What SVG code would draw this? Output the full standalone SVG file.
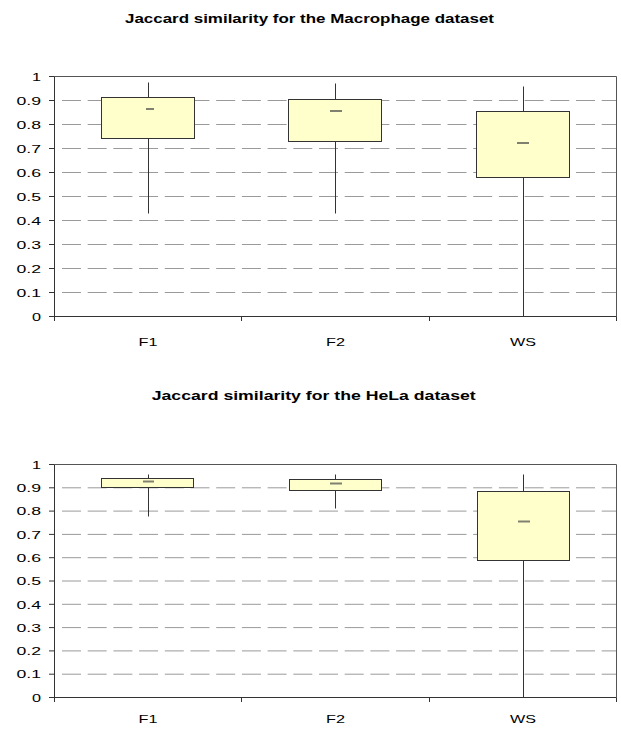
<svg xmlns="http://www.w3.org/2000/svg" width="621" height="732" viewBox="0 0 621 732">
<style>
.title{font-family:"Liberation Sans",Arial,sans-serif;font-weight:bold;font-size:12.5px;fill:#000}
.lab{font-family:"Liberation Sans",Arial,sans-serif;font-size:11.6px;fill:#000}
.grid{stroke:#9a9a9a;stroke-width:1;stroke-dasharray:19 6.7;fill:none}
.axis{stroke:#333;stroke-width:1;fill:none}
.frame{stroke:#555;stroke-width:1;fill:none}
.box{fill:#ffffcc;stroke:#333;stroke-width:1}
.whisk{stroke:#333;stroke-width:1}
.med{stroke:#808070;stroke-width:2}
</style>
<rect width="621" height="732" fill="#fff"/>

<!-- ===== Chart 1 ===== -->
<g id="chart1">
<text class="title" x="309.5" y="22.7" text-anchor="middle" textLength="369" lengthAdjust="spacingAndGlyphs">Jaccard similarity for the Macrophage dataset</text>
<g id="chart1-grid">
<line class="grid" x1="62" x2="616" y1="100.5" y2="100.5"/>
<line class="grid" x1="62" x2="616" y1="124.5" y2="124.5"/>
<line class="grid" x1="62" x2="616" y1="148.5" y2="148.5"/>
<line class="grid" x1="62" x2="616" y1="172.5" y2="172.5"/>
<line class="grid" x1="62" x2="616" y1="196.5" y2="196.5"/>
<line class="grid" x1="62" x2="616" y1="220.5" y2="220.5"/>
<line class="grid" x1="62" x2="616" y1="244.5" y2="244.5"/>
<line class="grid" x1="62" x2="616" y1="268.5" y2="268.5"/>
<line class="grid" x1="62" x2="616" y1="292.5" y2="292.5"/>
</g>
<path class="frame" d="M54.5 76.5 H616.5 V316.5"/>
<g id="chart1-axes">
<path class="axis" d="M54.5 76.5 V321 M54.5 316.5 H616.5 M241.5 316.5 V321 M429.5 316.5 V321 M616.5 316.5 V321"/>
<path class="axis" d="M49 76.5 H54.5 M49 100.5 H54.5 M49 124.5 H54.5 M49 148.5 H54.5 M49 172.5 H54.5 M49 196.5 H54.5 M49 220.5 H54.5 M49 244.5 H54.5 M49 268.5 H54.5 M49 292.5 H54.5 M49 316.5 H54.5"/>
</g>
<g id="chart1-ylabels">
<text class="lab" x="41" y="80.7" text-anchor="end" textLength="9" lengthAdjust="spacingAndGlyphs">1</text>
<text class="lab" x="41" y="104.7" text-anchor="end" textLength="24.5" lengthAdjust="spacingAndGlyphs">0.9</text>
<text class="lab" x="41" y="128.7" text-anchor="end" textLength="24.5" lengthAdjust="spacingAndGlyphs">0.8</text>
<text class="lab" x="41" y="152.7" text-anchor="end" textLength="24.5" lengthAdjust="spacingAndGlyphs">0.7</text>
<text class="lab" x="41" y="176.7" text-anchor="end" textLength="24.5" lengthAdjust="spacingAndGlyphs">0.6</text>
<text class="lab" x="41" y="200.7" text-anchor="end" textLength="24.5" lengthAdjust="spacingAndGlyphs">0.5</text>
<text class="lab" x="41" y="224.7" text-anchor="end" textLength="24.5" lengthAdjust="spacingAndGlyphs">0.4</text>
<text class="lab" x="41" y="248.7" text-anchor="end" textLength="24.5" lengthAdjust="spacingAndGlyphs">0.3</text>
<text class="lab" x="41" y="272.7" text-anchor="end" textLength="24.5" lengthAdjust="spacingAndGlyphs">0.2</text>
<text class="lab" x="41" y="296.7" text-anchor="end" textLength="24.5" lengthAdjust="spacingAndGlyphs">0.1</text>
<text class="lab" x="41" y="320.7" text-anchor="end" textLength="9" lengthAdjust="spacingAndGlyphs">0</text>
</g>
<g id="chart1-xlabels">
<text class="lab" x="148" y="345.5" text-anchor="middle" textLength="19" lengthAdjust="spacingAndGlyphs">F1</text>
<text class="lab" x="335.5" y="345.5" text-anchor="middle" textLength="19" lengthAdjust="spacingAndGlyphs">F2</text>
<text class="lab" x="523" y="345.5" text-anchor="middle" textLength="26" lengthAdjust="spacingAndGlyphs">WS</text>
</g>
<g id="c1-F1">
<line class="whisk" x1="148.5" x2="148.5" y1="82.5" y2="213.5"/>
<rect class="box" x="101.5" y="97.5" width="93" height="41"/>
<line class="med" x1="146" x2="154" y1="109" y2="109"/>
</g>
<g id="c1-F2">
<line class="whisk" x1="335.5" x2="335.5" y1="83.5" y2="213.5"/>
<rect class="box" x="288.5" y="99.5" width="93" height="42"/>
<line class="med" x1="330" x2="342" y1="111" y2="111"/>
</g>
<g id="c1-WS">
<line class="whisk" x1="523.5" x2="523.5" y1="86.5" y2="316.5"/>
<rect class="box" x="476.5" y="111.5" width="93" height="66"/>
<line class="med" x1="517" x2="529" y1="143" y2="143"/>
</g>
</g>

<!-- ===== Chart 2 ===== -->
<g id="chart2">
<text class="title" x="313.7" y="399.5" text-anchor="middle" textLength="324" lengthAdjust="spacingAndGlyphs">Jaccard similarity for the HeLa dataset</text>
<g id="chart2-grid">
<line class="grid" x1="62" x2="616" y1="487.8" y2="487.8"/>
<line class="grid" x1="62" x2="616" y1="511.1" y2="511.1"/>
<line class="grid" x1="62" x2="616" y1="534.4" y2="534.4"/>
<line class="grid" x1="62" x2="616" y1="557.7" y2="557.7"/>
<line class="grid" x1="62" x2="616" y1="581" y2="581"/>
<line class="grid" x1="62" x2="616" y1="604.3" y2="604.3"/>
<line class="grid" x1="62" x2="616" y1="627.6" y2="627.6"/>
<line class="grid" x1="62" x2="616" y1="650.9" y2="650.9"/>
<line class="grid" x1="62" x2="616" y1="674.2" y2="674.2"/>
</g>
<path class="frame" d="M54.5 464.5 H616.5 V697.5"/>
<g id="chart2-axes">
<path class="axis" d="M54.5 464.5 V702 M54.5 697.5 H616.5 M241.5 697.5 V702 M429.5 697.5 V702 M616.5 697.5 V702"/>
<path class="axis" d="M49 464.5 H54.5 M49 487.8 H54.5 M49 511.1 H54.5 M49 534.4 H54.5 M49 557.7 H54.5 M49 581 H54.5 M49 604.3 H54.5 M49 627.6 H54.5 M49 650.9 H54.5 M49 674.2 H54.5 M49 697.5 H54.5"/>
</g>
<g id="chart2-ylabels">
<text class="lab" x="41" y="468.7" text-anchor="end" textLength="9" lengthAdjust="spacingAndGlyphs">1</text>
<text class="lab" x="41" y="492" text-anchor="end" textLength="24.5" lengthAdjust="spacingAndGlyphs">0.9</text>
<text class="lab" x="41" y="515.3" text-anchor="end" textLength="24.5" lengthAdjust="spacingAndGlyphs">0.8</text>
<text class="lab" x="41" y="538.6" text-anchor="end" textLength="24.5" lengthAdjust="spacingAndGlyphs">0.7</text>
<text class="lab" x="41" y="561.9" text-anchor="end" textLength="24.5" lengthAdjust="spacingAndGlyphs">0.6</text>
<text class="lab" x="41" y="585.2" text-anchor="end" textLength="24.5" lengthAdjust="spacingAndGlyphs">0.5</text>
<text class="lab" x="41" y="608.5" text-anchor="end" textLength="24.5" lengthAdjust="spacingAndGlyphs">0.4</text>
<text class="lab" x="41" y="631.8" text-anchor="end" textLength="24.5" lengthAdjust="spacingAndGlyphs">0.3</text>
<text class="lab" x="41" y="655.1" text-anchor="end" textLength="24.5" lengthAdjust="spacingAndGlyphs">0.2</text>
<text class="lab" x="41" y="678.4" text-anchor="end" textLength="24.5" lengthAdjust="spacingAndGlyphs">0.1</text>
<text class="lab" x="41" y="701.7" text-anchor="end" textLength="9" lengthAdjust="spacingAndGlyphs">0</text>
</g>
<g id="chart2-xlabels">
<text class="lab" x="148" y="723" text-anchor="middle" textLength="19" lengthAdjust="spacingAndGlyphs">F1</text>
<text class="lab" x="335.5" y="723" text-anchor="middle" textLength="19" lengthAdjust="spacingAndGlyphs">F2</text>
<text class="lab" x="523" y="723" text-anchor="middle" textLength="26" lengthAdjust="spacingAndGlyphs">WS</text>
</g>
<g id="c2-F1">
<line class="whisk" x1="148.5" x2="148.5" y1="474.5" y2="516.5"/>
<rect class="box" x="101.5" y="478.5" width="92" height="9"/>
<line class="med" x1="143" x2="154" y1="481.5" y2="481.5"/>
</g>
<g id="c2-F2">
<line class="whisk" x1="335.5" x2="335.5" y1="474.5" y2="508.5"/>
<rect class="box" x="289.5" y="479.5" width="92" height="11"/>
<line class="med" x1="330" x2="342" y1="483.5" y2="483.5"/>
</g>
<g id="c2-WS">
<line class="whisk" x1="523.5" x2="523.5" y1="474.5" y2="697.5"/>
<rect class="box" x="477.5" y="491.5" width="92" height="69"/>
<line class="med" x1="518" x2="530" y1="521.5" y2="521.5"/>
</g>
</g>
</svg>
